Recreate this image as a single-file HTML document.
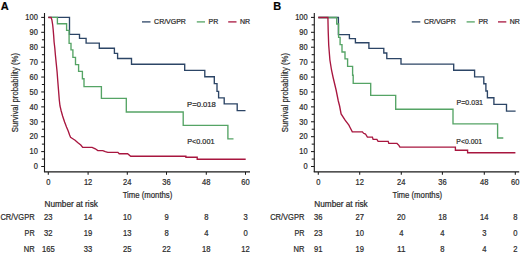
<!DOCTYPE html>
<html><head><meta charset="utf-8"><style>
html,body{margin:0;padding:0;background:#fff;}
body{width:520px;height:254px;overflow:hidden;}
svg{display:block;}
text{font-family:"Liberation Sans",sans-serif;fill:#2a2a2a;stroke:#2a2a2a;stroke-width:0.22px;}
.t{font-size:8.3px;}
.tx{font-size:8.9px;}
.ti{font-size:9px;}
.tt{font-size:9.4px;}
.na{font-size:8.4px;}
.lg{font-size:7px;}
.p{font-size:7.7px;}
.rl{font-size:8.5px;}
.n{font-size:8.8px;}
.lab{font-size:11px;font-weight:bold;fill:#000;}
</style></head><body>
<svg width="520" height="254" viewBox="0 0 520 254">
<rect width="520" height="254" fill="#fff"/>
<path d="M44.5,13 V171.9" fill="none" stroke="#1a1a1a" stroke-width="1.1"/>
<path d="M43.95,171.9 H250" fill="none" stroke="#1a1a1a" stroke-width="1.2"/>
<path d="M41.2,166.50 H44.5" stroke="#1a1a1a" stroke-width="1.05"/>
<text x="37.8" y="169.30" text-anchor="end" class="t" textLength="4.15" lengthAdjust="spacingAndGlyphs">0</text>
<path d="M41.2,151.59 H44.5" stroke="#1a1a1a" stroke-width="1.05"/>
<text x="37.8" y="154.39" text-anchor="end" class="t" textLength="8.30" lengthAdjust="spacingAndGlyphs">10</text>
<path d="M41.2,136.68 H44.5" stroke="#1a1a1a" stroke-width="1.05"/>
<text x="37.8" y="139.48" text-anchor="end" class="t" textLength="8.30" lengthAdjust="spacingAndGlyphs">20</text>
<path d="M41.2,121.77 H44.5" stroke="#1a1a1a" stroke-width="1.05"/>
<text x="37.8" y="124.57" text-anchor="end" class="t" textLength="8.30" lengthAdjust="spacingAndGlyphs">30</text>
<path d="M41.2,106.86 H44.5" stroke="#1a1a1a" stroke-width="1.05"/>
<text x="37.8" y="109.66" text-anchor="end" class="t" textLength="8.30" lengthAdjust="spacingAndGlyphs">40</text>
<path d="M41.2,91.95 H44.5" stroke="#1a1a1a" stroke-width="1.05"/>
<text x="37.8" y="94.75" text-anchor="end" class="t" textLength="8.30" lengthAdjust="spacingAndGlyphs">50</text>
<path d="M41.2,77.04 H44.5" stroke="#1a1a1a" stroke-width="1.05"/>
<text x="37.8" y="79.84" text-anchor="end" class="t" textLength="8.30" lengthAdjust="spacingAndGlyphs">60</text>
<path d="M41.2,62.13 H44.5" stroke="#1a1a1a" stroke-width="1.05"/>
<text x="37.8" y="64.93" text-anchor="end" class="t" textLength="8.30" lengthAdjust="spacingAndGlyphs">70</text>
<path d="M41.2,47.22 H44.5" stroke="#1a1a1a" stroke-width="1.05"/>
<text x="37.8" y="50.02" text-anchor="end" class="t" textLength="8.30" lengthAdjust="spacingAndGlyphs">80</text>
<path d="M41.2,32.31 H44.5" stroke="#1a1a1a" stroke-width="1.05"/>
<text x="37.8" y="35.11" text-anchor="end" class="t" textLength="8.30" lengthAdjust="spacingAndGlyphs">90</text>
<path d="M41.2,17.40 H44.5" stroke="#1a1a1a" stroke-width="1.05"/>
<text x="37.8" y="20.20" text-anchor="end" class="t" textLength="12.45" lengthAdjust="spacingAndGlyphs">100</text>
<path d="M41.9,159.04 H44.5" stroke="#1a1a1a" stroke-width="1.05"/>
<path d="M41.9,144.13 H44.5" stroke="#1a1a1a" stroke-width="1.05"/>
<path d="M41.9,129.22 H44.5" stroke="#1a1a1a" stroke-width="1.05"/>
<path d="M41.9,114.31 H44.5" stroke="#1a1a1a" stroke-width="1.05"/>
<path d="M41.9,99.41 H44.5" stroke="#1a1a1a" stroke-width="1.05"/>
<path d="M41.9,84.50 H44.5" stroke="#1a1a1a" stroke-width="1.05"/>
<path d="M41.9,69.58 H44.5" stroke="#1a1a1a" stroke-width="1.05"/>
<path d="M41.9,54.67 H44.5" stroke="#1a1a1a" stroke-width="1.05"/>
<path d="M41.9,39.77 H44.5" stroke="#1a1a1a" stroke-width="1.05"/>
<path d="M41.9,24.85 H44.5" stroke="#1a1a1a" stroke-width="1.05"/>
<path d="M48.3,171.9 V174.8" stroke="#1a1a1a" stroke-width="1.05"/>
<text x="48.3" y="184.5" text-anchor="middle" class="tx" textLength="4.20" lengthAdjust="spacingAndGlyphs">0</text>
<path d="M88.1,171.9 V174.8" stroke="#1a1a1a" stroke-width="1.05"/>
<text x="88.1" y="184.5" text-anchor="middle" class="tx" textLength="8.40" lengthAdjust="spacingAndGlyphs">12</text>
<path d="M127.3,171.9 V174.8" stroke="#1a1a1a" stroke-width="1.05"/>
<text x="127.3" y="184.5" text-anchor="middle" class="tx" textLength="8.40" lengthAdjust="spacingAndGlyphs">24</text>
<path d="M166.5,171.9 V174.8" stroke="#1a1a1a" stroke-width="1.05"/>
<text x="166.5" y="184.5" text-anchor="middle" class="tx" textLength="8.40" lengthAdjust="spacingAndGlyphs">36</text>
<path d="M206.3,171.9 V174.8" stroke="#1a1a1a" stroke-width="1.05"/>
<text x="206.3" y="184.5" text-anchor="middle" class="tx" textLength="8.40" lengthAdjust="spacingAndGlyphs">48</text>
<path d="M245.5,171.9 V174.8" stroke="#1a1a1a" stroke-width="1.05"/>
<text x="245.5" y="184.5" text-anchor="middle" class="tx" textLength="8.40" lengthAdjust="spacingAndGlyphs">60</text>
<text x="147.5" y="197.6" text-anchor="middle" class="ti" textLength="49.7" lengthAdjust="spacingAndGlyphs">Time (months)</text>
<text transform="translate(18.2,92.55) rotate(-90)" x="0" y="0" text-anchor="middle" class="tt" textLength="79.3" lengthAdjust="spacingAndGlyphs">Survival probability (%)</text>
<text x="0.8" y="9.6" class="lab">A</text>
<path d="M142,21.9 H150.5" stroke="#2c4566" stroke-width="1.3"/>
<text x="154.1" y="24" class="lg" textLength="31.8" lengthAdjust="spacingAndGlyphs">CR/VGPR</text>
<path d="M196.8,21.9 H205" stroke="#55a465" stroke-width="1.3"/>
<text x="208.6" y="24" class="lg">PR</text>
<path d="M228.2,21.9 H236.5" stroke="#a8163f" stroke-width="1.3"/>
<text x="240" y="24" class="lg">NR</text>
<path d="M48.3,17.4 H69.5 V34.4 H79.5 V38.3 H86.1 V43.1 H99.3 V48.2 H114.4 V53.4 H117.6 V58.5 H131.5 V64.2 H184.7 V70.3 H204.8 V76.7 H214.3 V83.6 H217 V91.3 H218.6 V97.9 H224.2 V103.9 H237.2 V110.6 H245.5" fill="none" stroke="#2c4566" stroke-width="1.35" stroke-linejoin="miter"/>
<path d="M48.3,17.4 H57.4 V23.7 H66.6 V30.4 H69.1 V43.3 H71 V49.9 H72.9 V57.4 H75.5 V64.6 H78.6 V71.4 H82.4 V78.7 H84 V86.6 H101.4 V98.3 H126.3 V112 H183.2 V125.3 H227.9 V138.9 H233.5" fill="none" stroke="#55a465" stroke-width="1.35" stroke-linejoin="miter"/>
<path d="M48.3,17.5 H51.1 L51.9,20 L52.7,25 L53.2,30 L53.7,36 L54.1,42 L54.8,48 L55.4,55 L56.3,64 L57.1,72 L57.7,80 L58.5,90 L59.3,100 L60,106 L61.2,111 L62.6,116 L64.6,122 L66.5,127 L68.2,131 L69.6,135 L70.6,137.4 L72,138.3 L75.1,140.2 L77.6,142.5 L80.8,145 L82.7,147.4 H92.1 L95.3,148.8 L97.8,150.6 H102.8 L105.3,151.7 L107.9,152.3 H117.9 L119.2,153.7 H127.6 L130.7,156.2 H185.9 V157.2 H197.2 V159.2 H245.7" fill="none" stroke="#a8163f" stroke-width="1.35" stroke-linejoin="miter"/>
<text x="187.0" y="106.9" class="p" textLength="28.9" lengthAdjust="spacingAndGlyphs">P=0.018</text>
<text x="187.2" y="144.4" class="p" textLength="27.3" lengthAdjust="spacingAndGlyphs">P&lt;0.001</text>
<text x="44.5" y="206.9" class="na" textLength="53.4" lengthAdjust="spacingAndGlyphs">Number at risk</text>
<text x="34.6" y="219.7" text-anchor="end" class="rl" textLength="34.2" lengthAdjust="spacingAndGlyphs">CR/VGPR</text>
<text x="48.3" y="219.7" text-anchor="middle" class="n" textLength="8.50" lengthAdjust="spacingAndGlyphs">23</text>
<text x="88.1" y="219.7" text-anchor="middle" class="n" textLength="8.50" lengthAdjust="spacingAndGlyphs">14</text>
<text x="127.3" y="219.7" text-anchor="middle" class="n" textLength="8.50" lengthAdjust="spacingAndGlyphs">10</text>
<text x="166.5" y="219.7" text-anchor="middle" class="n" textLength="4.25" lengthAdjust="spacingAndGlyphs">9</text>
<text x="206.3" y="219.7" text-anchor="middle" class="n" textLength="4.25" lengthAdjust="spacingAndGlyphs">8</text>
<text x="245.5" y="219.7" text-anchor="middle" class="n" textLength="4.25" lengthAdjust="spacingAndGlyphs">3</text>
<text x="34.6" y="235.9" text-anchor="end" class="rl" textLength="10.0" lengthAdjust="spacingAndGlyphs">PR</text>
<text x="48.3" y="235.9" text-anchor="middle" class="n" textLength="8.50" lengthAdjust="spacingAndGlyphs">32</text>
<text x="88.1" y="235.9" text-anchor="middle" class="n" textLength="8.50" lengthAdjust="spacingAndGlyphs">19</text>
<text x="127.3" y="235.9" text-anchor="middle" class="n" textLength="8.50" lengthAdjust="spacingAndGlyphs">13</text>
<text x="166.5" y="235.9" text-anchor="middle" class="n" textLength="4.25" lengthAdjust="spacingAndGlyphs">8</text>
<text x="206.3" y="235.9" text-anchor="middle" class="n" textLength="4.25" lengthAdjust="spacingAndGlyphs">4</text>
<text x="245.5" y="235.9" text-anchor="middle" class="n" textLength="4.25" lengthAdjust="spacingAndGlyphs">0</text>
<text x="34.6" y="251.8" text-anchor="end" class="rl" textLength="10.9" lengthAdjust="spacingAndGlyphs">NR</text>
<text x="48.3" y="251.8" text-anchor="middle" class="n" textLength="12.75" lengthAdjust="spacingAndGlyphs">165</text>
<text x="88.1" y="251.8" text-anchor="middle" class="n" textLength="8.50" lengthAdjust="spacingAndGlyphs">33</text>
<text x="127.3" y="251.8" text-anchor="middle" class="n" textLength="8.50" lengthAdjust="spacingAndGlyphs">25</text>
<text x="166.5" y="251.8" text-anchor="middle" class="n" textLength="8.50" lengthAdjust="spacingAndGlyphs">22</text>
<text x="206.3" y="251.8" text-anchor="middle" class="n" textLength="8.50" lengthAdjust="spacingAndGlyphs">18</text>
<text x="245.5" y="251.8" text-anchor="middle" class="n" textLength="8.50" lengthAdjust="spacingAndGlyphs">12</text>
<path d="M314.3,13 V171.9" fill="none" stroke="#1a1a1a" stroke-width="1.1"/>
<path d="M313.75,171.9 H519.2" fill="none" stroke="#1a1a1a" stroke-width="1.2"/>
<path d="M311.0,166.50 H314.3" stroke="#1a1a1a" stroke-width="1.05"/>
<text x="307.6" y="169.30" text-anchor="end" class="t" textLength="4.15" lengthAdjust="spacingAndGlyphs">0</text>
<path d="M311.0,151.59 H314.3" stroke="#1a1a1a" stroke-width="1.05"/>
<text x="307.6" y="154.39" text-anchor="end" class="t" textLength="8.30" lengthAdjust="spacingAndGlyphs">10</text>
<path d="M311.0,136.68 H314.3" stroke="#1a1a1a" stroke-width="1.05"/>
<text x="307.6" y="139.48" text-anchor="end" class="t" textLength="8.30" lengthAdjust="spacingAndGlyphs">20</text>
<path d="M311.0,121.77 H314.3" stroke="#1a1a1a" stroke-width="1.05"/>
<text x="307.6" y="124.57" text-anchor="end" class="t" textLength="8.30" lengthAdjust="spacingAndGlyphs">30</text>
<path d="M311.0,106.86 H314.3" stroke="#1a1a1a" stroke-width="1.05"/>
<text x="307.6" y="109.66" text-anchor="end" class="t" textLength="8.30" lengthAdjust="spacingAndGlyphs">40</text>
<path d="M311.0,91.95 H314.3" stroke="#1a1a1a" stroke-width="1.05"/>
<text x="307.6" y="94.75" text-anchor="end" class="t" textLength="8.30" lengthAdjust="spacingAndGlyphs">50</text>
<path d="M311.0,77.04 H314.3" stroke="#1a1a1a" stroke-width="1.05"/>
<text x="307.6" y="79.84" text-anchor="end" class="t" textLength="8.30" lengthAdjust="spacingAndGlyphs">60</text>
<path d="M311.0,62.13 H314.3" stroke="#1a1a1a" stroke-width="1.05"/>
<text x="307.6" y="64.93" text-anchor="end" class="t" textLength="8.30" lengthAdjust="spacingAndGlyphs">70</text>
<path d="M311.0,47.22 H314.3" stroke="#1a1a1a" stroke-width="1.05"/>
<text x="307.6" y="50.02" text-anchor="end" class="t" textLength="8.30" lengthAdjust="spacingAndGlyphs">80</text>
<path d="M311.0,32.31 H314.3" stroke="#1a1a1a" stroke-width="1.05"/>
<text x="307.6" y="35.11" text-anchor="end" class="t" textLength="8.30" lengthAdjust="spacingAndGlyphs">90</text>
<path d="M311.0,17.40 H314.3" stroke="#1a1a1a" stroke-width="1.05"/>
<text x="307.6" y="20.20" text-anchor="end" class="t" textLength="12.45" lengthAdjust="spacingAndGlyphs">100</text>
<path d="M311.7,159.04 H314.3" stroke="#1a1a1a" stroke-width="1.05"/>
<path d="M311.7,144.13 H314.3" stroke="#1a1a1a" stroke-width="1.05"/>
<path d="M311.7,129.22 H314.3" stroke="#1a1a1a" stroke-width="1.05"/>
<path d="M311.7,114.31 H314.3" stroke="#1a1a1a" stroke-width="1.05"/>
<path d="M311.7,99.41 H314.3" stroke="#1a1a1a" stroke-width="1.05"/>
<path d="M311.7,84.50 H314.3" stroke="#1a1a1a" stroke-width="1.05"/>
<path d="M311.7,69.58 H314.3" stroke="#1a1a1a" stroke-width="1.05"/>
<path d="M311.7,54.67 H314.3" stroke="#1a1a1a" stroke-width="1.05"/>
<path d="M311.7,39.77 H314.3" stroke="#1a1a1a" stroke-width="1.05"/>
<path d="M311.7,24.85 H314.3" stroke="#1a1a1a" stroke-width="1.05"/>
<path d="M318.3,171.9 V174.8" stroke="#1a1a1a" stroke-width="1.05"/>
<text x="318.3" y="184.5" text-anchor="middle" class="tx" textLength="4.20" lengthAdjust="spacingAndGlyphs">0</text>
<path d="M359.7,171.9 V174.8" stroke="#1a1a1a" stroke-width="1.05"/>
<text x="359.7" y="184.5" text-anchor="middle" class="tx" textLength="8.40" lengthAdjust="spacingAndGlyphs">12</text>
<path d="M401.3,171.9 V174.8" stroke="#1a1a1a" stroke-width="1.05"/>
<text x="401.3" y="184.5" text-anchor="middle" class="tx" textLength="8.40" lengthAdjust="spacingAndGlyphs">24</text>
<path d="M442.4,171.9 V174.8" stroke="#1a1a1a" stroke-width="1.05"/>
<text x="442.4" y="184.5" text-anchor="middle" class="tx" textLength="8.40" lengthAdjust="spacingAndGlyphs">36</text>
<path d="M484.3,171.9 V174.8" stroke="#1a1a1a" stroke-width="1.05"/>
<text x="484.3" y="184.5" text-anchor="middle" class="tx" textLength="8.40" lengthAdjust="spacingAndGlyphs">48</text>
<path d="M515.3,171.9 V174.8" stroke="#1a1a1a" stroke-width="1.05"/>
<text x="515.3" y="184.5" text-anchor="middle" class="tx" textLength="8.40" lengthAdjust="spacingAndGlyphs">60</text>
<text x="417.3" y="197.6" text-anchor="middle" class="ti" textLength="49.7" lengthAdjust="spacingAndGlyphs">Time (months)</text>
<text transform="translate(288.0,92.55) rotate(-90)" x="0" y="0" text-anchor="middle" class="tt" textLength="79.3" lengthAdjust="spacingAndGlyphs">Survival probability (%)</text>
<text x="273.3" y="9.6" class="lab">B</text>
<path d="M411.8,21.9 H420.3" stroke="#2c4566" stroke-width="1.3"/>
<text x="423.9" y="24" class="lg" textLength="31.8" lengthAdjust="spacingAndGlyphs">CR/VGPR</text>
<path d="M466.6,21.9 H474.8" stroke="#55a465" stroke-width="1.3"/>
<text x="478.4" y="24" class="lg">PR</text>
<path d="M498.0,21.9 H506.3" stroke="#a8163f" stroke-width="1.3"/>
<text x="509.8" y="24" class="lg">NR</text>
<path d="M318.3,17.5 H338.4 V34.6 H349.4 V38.6 H355.4 V42.7 H368.9 V48.3 H383.8 V53 H386.8 V58.6 H401 V64.1 H453.7 V70.2 H474.6 V76.9 H483.8 V83.7 H485.9 V91 H487.4 V97.7 H493.9 V104.4 H506.5 V111.1 H515.6" fill="none" stroke="#2c4566" stroke-width="1.35" stroke-linejoin="miter"/>
<path d="M318.3,17.5 H336.7 V24 H338.6 V37.3 H340.1 V44.6 H342 V52 H345 V58.8 H347.6 V66.4 H352.6 V75.2 H353.2 V83.4 H370.7 V95.3 H395.7 V109.2 H453 V123.8 H497.6 V138 H503.3" fill="none" stroke="#55a465" stroke-width="1.35" stroke-linejoin="miter"/>
<path d="M318.3,17.5 H327.9 L328.2,31 L328.7,45 L329.9,60 L331.5,70 L333,77 L336.1,90 L338.3,101 L339.6,106 L341.1,113.9 L345.1,120.2 L348.9,125.2 L349.8,127 L352.3,131.8 H362.4 L363.6,133.3 L365.5,134 L367.4,137.1 H372.4 L373.1,139.4 H376.9 L378.1,141.3 H388.2 L388.8,143.4 H397 L398.9,145.3 L399.9,147.1 H455.4 V150.2 H467.6 V152.7 H515.4" fill="none" stroke="#a8163f" stroke-width="1.35" stroke-linejoin="miter"/>
<text x="456.5" y="105.3" class="p" textLength="26.5" lengthAdjust="spacingAndGlyphs">P=0.031</text>
<text x="456.3" y="144.1" class="p" textLength="25.8" lengthAdjust="spacingAndGlyphs">P&lt;0.001</text>
<text x="314.3" y="206.9" class="na" textLength="53.4" lengthAdjust="spacingAndGlyphs">Number at risk</text>
<text x="304.40000000000003" y="219.7" text-anchor="end" class="rl" textLength="34.2" lengthAdjust="spacingAndGlyphs">CR/VGPR</text>
<text x="318.3" y="219.7" text-anchor="middle" class="n" textLength="8.50" lengthAdjust="spacingAndGlyphs">36</text>
<text x="359.7" y="219.7" text-anchor="middle" class="n" textLength="8.50" lengthAdjust="spacingAndGlyphs">27</text>
<text x="401.3" y="219.7" text-anchor="middle" class="n" textLength="8.50" lengthAdjust="spacingAndGlyphs">20</text>
<text x="442.4" y="219.7" text-anchor="middle" class="n" textLength="8.50" lengthAdjust="spacingAndGlyphs">18</text>
<text x="484.3" y="219.7" text-anchor="middle" class="n" textLength="8.50" lengthAdjust="spacingAndGlyphs">14</text>
<text x="515.3" y="219.7" text-anchor="middle" class="n" textLength="4.25" lengthAdjust="spacingAndGlyphs">8</text>
<text x="304.40000000000003" y="235.9" text-anchor="end" class="rl" textLength="10.0" lengthAdjust="spacingAndGlyphs">PR</text>
<text x="318.3" y="235.9" text-anchor="middle" class="n" textLength="8.50" lengthAdjust="spacingAndGlyphs">23</text>
<text x="359.7" y="235.9" text-anchor="middle" class="n" textLength="8.50" lengthAdjust="spacingAndGlyphs">10</text>
<text x="401.3" y="235.9" text-anchor="middle" class="n" textLength="4.25" lengthAdjust="spacingAndGlyphs">4</text>
<text x="442.4" y="235.9" text-anchor="middle" class="n" textLength="4.25" lengthAdjust="spacingAndGlyphs">4</text>
<text x="484.3" y="235.9" text-anchor="middle" class="n" textLength="4.25" lengthAdjust="spacingAndGlyphs">3</text>
<text x="515.3" y="235.9" text-anchor="middle" class="n" textLength="4.25" lengthAdjust="spacingAndGlyphs">0</text>
<text x="304.40000000000003" y="251.8" text-anchor="end" class="rl" textLength="10.9" lengthAdjust="spacingAndGlyphs">NR</text>
<text x="318.3" y="251.8" text-anchor="middle" class="n" textLength="8.50" lengthAdjust="spacingAndGlyphs">91</text>
<text x="359.7" y="251.8" text-anchor="middle" class="n" textLength="8.50" lengthAdjust="spacingAndGlyphs">19</text>
<text x="401.3" y="251.8" text-anchor="middle" class="n" textLength="8.50" lengthAdjust="spacingAndGlyphs">11</text>
<text x="442.4" y="251.8" text-anchor="middle" class="n" textLength="4.25" lengthAdjust="spacingAndGlyphs">8</text>
<text x="484.3" y="251.8" text-anchor="middle" class="n" textLength="4.25" lengthAdjust="spacingAndGlyphs">4</text>
<text x="515.3" y="251.8" text-anchor="middle" class="n" textLength="4.25" lengthAdjust="spacingAndGlyphs">2</text>
</svg>
</body></html>
